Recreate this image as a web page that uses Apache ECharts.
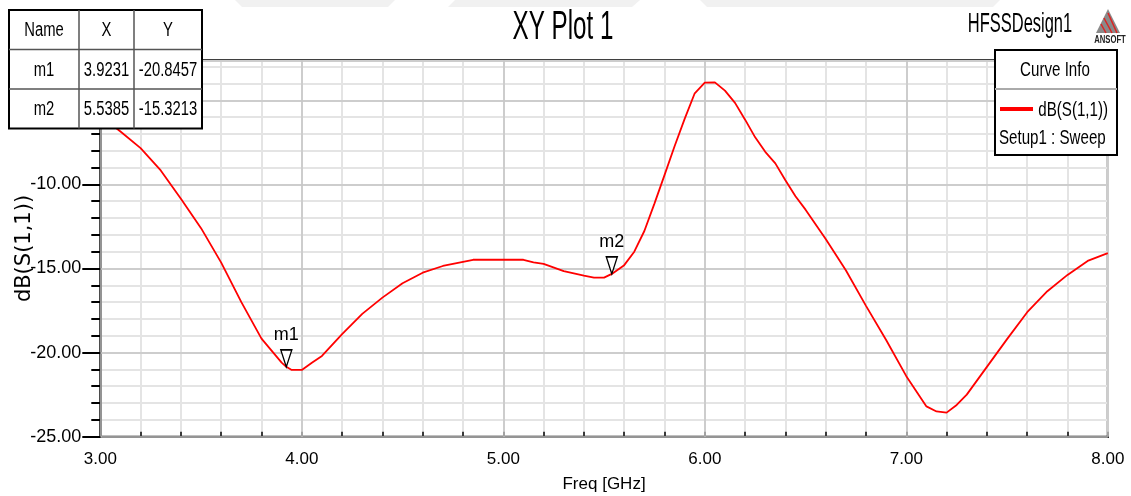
<!DOCTYPE html>
<html>
<head>
<meta charset="utf-8">
<script src="https://cdn.jsdelivr.net/npm/echarts@6/dist/echarts.min.js"></script>
<style>
html, body { margin: 0; padding: 0; background: #fff; }
#chart { width: 1131px; height: 496px; }
</style>
</head>
<body>
<div id="chart"></div>
<script>
var SANS = "'Liberation Sans', Arial, sans-serif";

// curve dB(S(1,1)) vs frequency
var freq = [3.0, 3.1, 3.2, 3.3, 3.4, 3.5, 3.6, 3.7, 3.8, 3.9, 3.9231, 3.95, 4.0, 4.05, 4.1,
	4.2, 4.3, 4.4, 4.5, 4.6, 4.7, 4.8, 4.85, 4.9, 5.0, 5.1, 5.15, 5.2, 5.3, 5.4,
	5.45, 5.5, 5.5385, 5.6, 5.65, 5.7, 5.75, 5.8, 5.85, 5.9, 5.95, 6.0, 6.05, 6.1, 6.15,
	6.2, 6.25, 6.3, 6.35, 6.4, 6.45, 6.5, 6.6, 6.7, 6.8, 6.9, 7.0, 7.1, 7.15, 7.2,
	7.25, 7.3, 7.4, 7.5, 7.6, 7.7, 7.8, 7.9, 8.0];
var s11 = [-5.9, -6.85, -7.84, -9.17, -10.85, -12.6, -14.65, -17.0, -19.17, -20.6, -20.8457, -21.03, -21.03, -20.6, -20.2,
	-18.9, -17.7, -16.73, -15.88, -15.25, -14.85, -14.6, -14.48, -14.48, -14.48, -14.48, -14.63, -14.72, -15.15, -15.42,
	-15.54, -15.54, -15.3213, -14.8, -14.0, -12.77, -11.14, -9.45, -7.73, -6.1, -4.58, -3.95, -3.93, -4.42, -5.15,
	-6.15, -7.2, -8.06, -8.75, -9.75, -10.7, -11.5, -13.25, -15.1, -17.22, -19.25, -21.4, -23.2, -23.5, -23.57,
	-23.11, -22.5, -20.85, -19.2, -17.6, -16.35, -15.38, -14.55, -14.08];

// markers
var markerNames = ['m1', 'm2'];
var markerX = [3.9231, 5.5385];
var markerY = [-20.8457, -15.3213];

var xMin = 3, xMax = 8, yMin = -25, yMax = -2.62;

var myChart = echarts.init(document.getElementById('chart'));

var points = freq.map(function (f, i) { return [f, s11[i]]; });
var marks = markerNames.map(function (n, i) {
	return { name: n, coord: [markerX[i], markerY[i]] };
});

// condensed text helper (no narrow font installed)
function ctext(t, x, y, size, sx, align, z) {
	return {
		type: 'text', x: x, y: y, scaleX: sx, z: z || 0,
		style: { text: t, font: size + 'px ' + SANS, fill: '#000', align: align || 'center', verticalAlign: 'middle' }
	};
}

// marker table (top left)
var tbl = { x: 9, y: 10, cols: [0, 70, 125, 193], rowH: 39.5 };
var tableEls = [];
var rows = [['Name', 'X', 'Y']];
markerNames.forEach(function (n, i) {
	rows.push([n, markerX[i].toFixed(4), markerY[i].toFixed(4)]);
});
tableEls.push({
	type: 'rect', z: 100,
	shape: { x: tbl.x, y: tbl.y, width: tbl.cols[3], height: tbl.rowH * rows.length },
	style: { fill: '#fff', stroke: '#000', lineWidth: 2 }
});
rows.forEach(function (r, ri) {
	if (ri > 0) {
		tableEls.push({
			type: 'line', z: 101,
			shape: { x1: tbl.x, y1: tbl.y + ri * tbl.rowH, x2: tbl.x + tbl.cols[3], y2: tbl.y + ri * tbl.rowH },
			style: { stroke: '#555', lineWidth: 1.5 }
		});
	}
	r.forEach(function (t, ci) {
		tableEls.push(ctext(t, tbl.x + (tbl.cols[ci] + tbl.cols[ci + 1]) / 2,
			tbl.y + ri * tbl.rowH + tbl.rowH / 2 + 1, 20, 0.74, 'center', 102));
	});
});
[1, 2].forEach(function (ci) {
	tableEls.push({
		type: 'line', z: 101,
		shape: { x1: tbl.x + tbl.cols[ci], y1: tbl.y, x2: tbl.x + tbl.cols[ci], y2: tbl.y + tbl.rowH * rows.length },
		style: { stroke: '#555', lineWidth: 1.5 }
	});
});

var graphics = [
	// faint watermark band along the top
	{ type: 'polygon', z: -1, shape: { points: [[235, 0], [395, 0], [388, 7], [242, 7]] }, style: { fill: '#f1f1f1' } },
	{ type: 'polygon', z: -1, shape: { points: [[455, 0], [640, 0], [632, 7], [448, 7]] }, style: { fill: '#f1f1f1' } },
	{ type: 'polygon', z: -1, shape: { points: [[700, 0], [1000, 0], [993, 7], [707, 7]] }, style: { fill: '#f1f1f1' } }
].concat(tableEls).concat([
	ctext('XY Plot 1', 563, 28, 41, 0.59, 'center'),
	ctext('HFSSDesign1', 1020, 25, 27, 0.61, 'center'),
	// ansoft logo
	{
		type: 'polygon', shape: { points: [[1096, 33], [1108, 9], [1120, 33]] },
		style: { fill: '#8a8a8a' }
	},
	{ type: 'line', shape: { x1: 1101, y1: 24, x2: 1106, y2: 33 }, style: { stroke: '#d22', lineWidth: 1.5 } },
	{ type: 'line', shape: { x1: 1104, y1: 18, x2: 1112, y2: 33 }, style: { stroke: '#d22', lineWidth: 1.5 } },
	{ type: 'line', shape: { x1: 1108, y1: 13, x2: 1117, y2: 33 }, style: { stroke: '#d22', lineWidth: 1.5 } },
	{
		type: 'text', x: 1110, y: 40, scaleX: 0.7,
		style: { text: 'ANSOFT', font: 'bold 11px ' + SANS, fill: '#222', align: 'center', verticalAlign: 'middle' }
	},
	// curve info box
	{
		type: 'rect', z: 3,
		shape: { x: 995, y: 50, width: 122, height: 105 },
		style: { fill: '#fff', stroke: '#000', lineWidth: 2 }
	},
	{
		type: 'line', z: 3,
		shape: { x1: 995, y1: 89, x2: 1117, y2: 89 },
		style: { stroke: '#aaa', lineWidth: 2 }
	},
	ctext('Curve Info', 1055, 70, 21, 0.72, 'center', 3),
	{
		type: 'line', z: 3,
		shape: { x1: 1000, y1: 109, x2: 1033, y2: 109 },
		style: { stroke: '#ff0000', lineWidth: 4 }
	},
	ctext('dB(S(1,1))', 1108, 110, 21, 0.72, 'right', 3),
	ctext('Setup1 : Sweep', 999, 138, 21, 0.72, 'left', 3)
]);

var lightGrid = { show: true, lineStyle: { color: '#e4e4e4', width: 2 } };
var darkGrid = { show: true, lineStyle: { color: '#c6c6c6', width: 1.5 } };

myChart.setOption(option = {
	animation: false,
	backgroundColor: '#fff',
	grid: {
		left: 100.3, right: 23.2, top: 60.3, bottom: 59.3,
		outerBoundsMode: 'none', containLabel: false,
		show: true, borderColor: '#000', borderWidth: 2
	},
	xAxis: [{
		type: 'value', min: xMin, max: xMax, interval: 0.2,
		axisLine: { lineStyle: { color: '#000', width: 2 } },
		axisTick: { inside: true, length: 5, lineStyle: { color: '#000', width: 1.5 } },
		axisLabel: { show: false },
		splitLine: lightGrid
	}, {
		type: 'value', min: xMin, max: xMax, interval: 1, position: 'bottom', z: 1,
		axisLine: { show: false },
		axisTick: { show: false },
		axisLabel: {
			margin: 14, color: '#000', fontFamily: SANS, fontSize: 17,
			formatter: function (v) { return v.toFixed(2); }
		},
		splitLine: darkGrid,
		name: 'Freq [GHz]', nameLocation: 'middle', nameGap: 39, nameMoveOverlap: false,
		nameTextStyle: { fontFamily: SANS, fontSize: 17, color: '#000' }
	}],
	yAxis: [{
		type: 'value', min: yMin, max: yMax, interval: 1,
		axisLine: { show: true, lineStyle: { color: '#000', width: 2 } },
		axisTick: { show: true, length: 9, lineStyle: { color: '#000', width: 2 } },
		axisLabel: { show: false },
		splitLine: lightGrid
	}, {
		type: 'value', min: yMin, max: yMax, interval: 5, position: 'left', z: 1,
		axisLine: { show: false },
		axisTick: { show: true, length: 18, lineStyle: { color: '#000', width: 2 } },
		axisLabel: {
			margin: 19, color: '#000', fontFamily: SANS, fontSize: 18, showMaxLabel: false,
			formatter: function (v) { return v % 5 === 0 ? v.toFixed(2) : ''; }
		},
		splitLine: darkGrid,
		name: 'dB(S(1,1))', nameLocation: 'middle', nameGap: 65, nameMoveOverlap: false,
		nameTextStyle: { fontFamily: "'DejaVu Sans', sans-serif", fontSize: 21, color: '#000' }
	}],
	series: [{
		name: 'dB(S(1,1))',
		type: 'line',
		xAxisIndex: 0, yAxisIndex: 0,
		data: points,
		symbol: 'none',
		lineStyle: { color: '#ff0000', width: 1.8 },
		itemStyle: { color: '#ff0000' },
		markPoint: {
			symbol: 'path://M0,0L12,0L6,18Z',
			symbolSize: [11, 17],
			symbolOffset: [0, '-50%'],
			itemStyle: { color: '#fff', borderColor: '#000', borderWidth: 1.5 },
			label: {
				show: true, position: 'top', distance: 5, formatter: '{b}',
				color: '#000', fontFamily: SANS, fontSize: 18
			},
			data: marks
		}
	}],
	graphic: graphics
});
window.addEventListener('resize', function () {
	myChart.resize();
});
</script>
</body>
</html>
